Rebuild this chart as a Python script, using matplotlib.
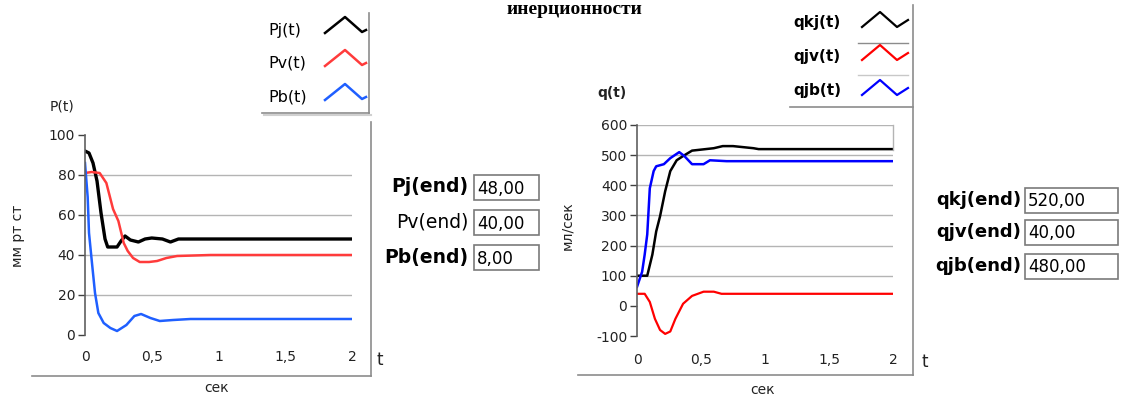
import matplotlib
matplotlib.use("Agg")
import matplotlib.pyplot as plt
from matplotlib.lines import Line2D
from matplotlib.patches import Rectangle

# ---------------- data ----------------
title_text = "инерционности"

# Left chart: pressures P(t), мм рт ст
tPj = [0, 0.03, 0.06, 0.09, 0.12, 0.15, 0.17, 0.24, 0.27, 0.30, 0.34, 0.40, 0.45, 0.50, 0.58, 0.64, 0.70, 2.0]
Pj = [92, 91, 86, 77, 61, 48, 44, 44, 47, 49.5, 47.5, 46.5, 48, 48.5, 48, 46.5, 48, 48]
tPv = [0, 0.05, 0.11, 0.16, 0.21, 0.25, 0.29, 0.32, 0.36, 0.41, 0.48, 0.54, 0.61, 0.69, 0.94, 2.0]
Pv = [81, 81.5, 81, 76, 63, 57, 46, 42, 38.5, 36.5, 36.5, 37, 38.5, 39.5, 40, 40]
tPb = [0, 0.02, 0.03, 0.05, 0.075, 0.10, 0.14, 0.19, 0.24, 0.31, 0.37, 0.42, 0.49, 0.56, 0.66, 0.79, 2.0]
Pb = [86, 69, 51, 37.5, 21, 11, 6, 3.5, 2, 5, 9.5, 10.5, 8.5, 7, 7.5, 8, 8]

# Right chart: flows q(t), мл/сек
tqkj = [0, 0.08, 0.12, 0.15, 0.18, 0.22, 0.26, 0.31, 0.36, 0.43, 0.60, 0.67, 0.75, 0.91, 0.95, 2.0]
qkj = [100, 100, 170, 247, 297, 380, 447, 483, 497, 515, 523, 530, 530, 523, 520, 520]
tqjv = [0, 0.06, 0.10, 0.14, 0.18, 0.22, 0.26, 0.30, 0.36, 0.43, 0.52, 0.60, 0.66, 2.0]
qjv = [40, 40, 13, -43, -80, -93, -85, -43, 7, 33, 47, 47, 40, 40]
tqjb = [0, 0.04, 0.06, 0.08, 0.09, 0.10, 0.13, 0.15, 0.21, 0.26, 0.33, 0.37, 0.43, 0.52, 0.57, 0.70, 2.0]
qjb = [63, 113, 170, 237, 313, 390, 447, 463, 470, 490, 510, 497, 470, 470, 483, 480, 480]

left_labels = ["Pj(t)", "Pv(t)", "Pb(t)"]
right_labels = ["qkj(t)", "qjv(t)", "qjb(t)"]
left_end_labels = ["Pj(end)", "Pv(end)", "Pb(end)"]
left_end_values = ["48,00", "40,00", "8,00"]
right_end_labels = ["qkj(end)", "qjv(end)", "qjb(end)"]
right_end_values = ["520,00", "40,00", "480,00"]
x_ticks = [0, 0.5, 1, 1.5, 2]
x_ticklabels = ["0", "0,5", "1", "1,5", "2"]
left_yticks = [0, 20, 40, 60, 80, 100]
right_yticks = [-100, 0, 100, 200, 300, 400, 500, 600]

# ---------------- figure ----------------
W, H = 1122, 396
fig = plt.figure(figsize=(W / 100, H / 100), dpi=100)
plt.rcParams['font.family'] = ['DejaVu Sans']

def fx(px):
    return px / W

def fy(py):
    return 1 - py / H

def fline(xs, ys, **kw):
    fig.add_artist(Line2D([fx(x) for x in xs], [fy(y) for y in ys], transform=fig.transFigure, **kw))

def ftext(x, y, s, **kw):
    fig.text(fx(x), fy(y), s, **kw)

GRID = '#b4b4b4'
FRAME = '#8c8c8c'
TICKC = '#404040'

left_colors = ['#000000', '#ff3b3b', '#1f5fff']
right_colors = ['#000000', '#ff0000', '#0000ff']

# ----- left axes -----
ax1 = fig.add_axes([fx(85), fy(335), (352 - 85) / W, 200 / H])
ax1.plot(tPj, Pj, color=left_colors[0], lw=2.4)
ax1.plot(tPv, Pv, color=left_colors[1], lw=1.8)
ax1.plot(tPb, Pb, color=left_colors[2], lw=1.8)
ax1.set_xlim(0, 2)
ax1.set_ylim(0, 100)
ax1.set_yticks(left_yticks)
ax1.set_yticklabels([str(v) for v in left_yticks])
for v in [20, 40, 60, 80]:
    ax1.axhline(v, color=GRID, lw=1, zorder=0)

# ----- right axes -----
ax2 = fig.add_axes([fx(637), fy(336), (893 - 637) / W, (336 - 125) / H])
ax2.plot(tqkj, qkj, color=right_colors[0], lw=1.8)
ax2.plot(tqjv, qjv, color=right_colors[1], lw=1.6)
ax2.plot(tqjb, qjb, color=right_colors[2], lw=1.8)
ax2.set_xlim(0, 2)
ax2.set_ylim(-100, 600)
ax2.set_yticks(right_yticks)
ax2.set_yticklabels([str(v) for v in right_yticks])
for v in [100, 200, 300, 400, 500, 600]:
    ax2.axhline(v, color=GRID, lw=1, zorder=0)

for ax, pad in [(ax1, 11), (ax2, 12)]:
    for s in ['top', 'right', 'bottom']:
        ax.spines[s].set_visible(False)
    ax.spines['left'].set_color('#606060')
    ax.spines['left'].set_linewidth(1.2)
    ax.set_xticks(x_ticks)
    ax.set_xticklabels(x_ticklabels)
    ax.tick_params(axis='y', direction='out', length=5, width=1, color=TICKC,
                   labelsize=10, labelcolor='#222222', pad=2)
    ax.tick_params(axis='x', length=0, labelsize=10, labelcolor='#222222', pad=pad)
    ax.set_facecolor('none')

# right chart short right edge at top
fline([893, 893], [125, 150], color=GRID, lw=1)

# ----- frames -----
fline([32, 371], [376, 376], color=FRAME, lw=1.2)
fline([371, 371], [122, 376], color=FRAME, lw=1.2)
fline([578, 913], [375, 375], color=FRAME, lw=1.2)
fline([913, 913], [5, 375], color=FRAME, lw=1.2)

# ----- axis titles -----
ftext(62, 107, "P(t)", fontsize=10, ha='center', va='center', color='#222222')
ftext(18, 236, "мм рт ст", fontsize=10, ha='center', va='center', rotation=90, color='#222222')
ftext(217, 388, "сек", fontsize=10, ha='center', va='center', color='#222222')
ftext(380, 360, "t", fontsize=12, ha='center', va='center', color='#222222')

ftext(612, 93, "q(t)", fontsize=10, ha='center', va='center', color='#222222', fontweight='bold')
ftext(567, 226, "мл/сек", fontsize=10, ha='center', va='center', rotation=90, color='#222222')
ftext(763, 390, "сек", fontsize=10, ha='center', va='center', color='#222222')
ftext(925, 362, "t", fontsize=12, ha='center', va='center', color='#222222')

# ----- title (at the very top) -----
ftext(574, 0.5, title_text, fontsize=14, ha='center', va='top',
      family='Liberation Serif', fontweight='bold', color='black')

# ----- left legend -----
fline([262, 369], [113, 113], color=FRAME, lw=1.2)
fline([264, 371], [115, 115], color='#d0d0d0', lw=1.5)
fline([369, 369], [13, 113], color=FRAME, lw=1.2)
left_rows = [33, 66, 100]
left_text_y = [30, 63, 97]
for lab, c, yb, yt in zip(left_labels, left_colors, left_rows, left_text_y):
    ftext(268, yt, lab, fontsize=11.5, ha='left', va='center', color='black')
    fline([325, 345, 362, 366], [yb, yb - 16, yb - 1, yb - 3], color=c, lw=1.8)

# ----- right legend -----
fline([790, 913], [107, 107], color=FRAME, lw=1.2)
fline([858, 908], [43, 43], color=FRAME, lw=1)
fline([858, 908], [75, 75], color='#c8c8c8', lw=1)
right_rows = [27, 60, 95]
right_text_y = [23, 57, 90]
for lab, c, yb, yt in zip(right_labels, right_colors, right_rows, right_text_y):
    ftext(793, yt, lab, fontsize=11, ha='left', va='center', color='black', fontweight='bold')
    fline([862, 880, 897, 908], [yb, yb - 15, yb, yb - 7], color=c, lw=1.6)

# ----- end-value boxes -----
def value_box(x0, x1, ytop, h, txt):
    fig.add_artist(Rectangle((fx(x0), fy(ytop + h)), (x1 - x0) / W, h / H,
                             transform=fig.transFigure, facecolor='white',
                             edgecolor='#7a7a7a', lw=1.2))
    ftext(x0 + 3, ytop + h / 2 + 1, txt, fontsize=12, ha='left', va='center', color='black')

left_weights = ['bold', 'normal', 'bold']
left_box_tops = [175, 210, 245]
for lab, val, wgt, yt in zip(left_end_labels, left_end_values, left_weights, left_box_tops):
    ftext(468, yt + 12, lab, fontsize=13.5, ha='right', va='center', fontweight=wgt, color='black')
    value_box(474, 539, yt, 25, val)

right_box_tops = [188, 220, 254]
for lab, val, yt in zip(right_end_labels, right_end_values, right_box_tops):
    ftext(1021, yt + 12, lab, fontsize=13, ha='right', va='center', fontweight='bold', color='black')
    value_box(1025, 1118, yt, 25, val)

fig.savefig("out.png", dpi=100)
